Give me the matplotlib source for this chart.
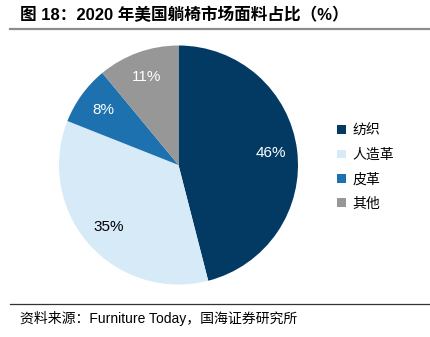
import matplotlib
matplotlib.use("Agg")
import matplotlib.pyplot as plt
from matplotlib.lines import Line2D

plt.rcParams['font.family'] = ['Liberation Sans', 'Noto Sans CJK SC', 'DejaVu Sans']

# data
labels = ['纺织', '人造革', '皮革', '其他']
values = [46, 35, 8, 11]
colors = ['#033A64', '#D6EAF8', '#1D71AE', '#979797']
pct_colors = ['white', 'black', 'white', 'white']

title = '图 18：2020 年美国躺椅市场面料占比（%）'
source = '资料来源：Furniture Today，国海证券研究所'

W, H = 431, 337
fig = plt.figure(figsize=(W / 100, H / 100), dpi=100)

# pie area: centre (178.5, 165) px, radius 119.5 px
cx, cy, r = 178.5, 165, 119.5
ax = fig.add_axes([(cx - r) / W, (H - cy - r) / H, 2 * r / W, 2 * r / H])
wedges, texts, autotexts = ax.pie(values, colors=colors, startangle=90, counterclock=False,
                                  autopct='%d%%', pctdistance=0.78, radius=1,
                                  textprops={'fontsize': 11})
for t, c in zip(autotexts, pct_colors):
    t.set_color(c)
ax.set_xlim(-1, 1)
ax.set_ylim(-1, 1)
ax.set_aspect('equal')
ax.axis('off')

fig.legend(wedges, labels, loc='upper left', bbox_to_anchor=(325 / W, 1 - 111 / H),
           frameon=False, handlelength=0.6, handleheight=0.6, handletextpad=0.5,
           labelspacing=0.75, prop={'family': ['Noto Sans CJK SC'], 'size': 10})

# title and rules
fig.text(20 / W, 1 - 15 / H, title, fontsize=12, fontweight='bold', va='center', ha='left',
         family=['Liberation Sans', 'Noto Sans CJK SC'])
fig.add_artist(Line2D([10 / W, 1], [1 - 29 / H, 1 - 29 / H], color='#8c8c8c', lw=1.6))
fig.add_artist(Line2D([10 / W, 1], [1 - 304 / H, 1 - 304 / H], color='#333333', lw=0.9))
fig.text(20 / W, 1 - 318 / H, source, fontsize=10, va='center', ha='left',
         family=['Liberation Sans', 'Noto Sans CJK SC'])

fig.savefig('out.png', dpi=100)
